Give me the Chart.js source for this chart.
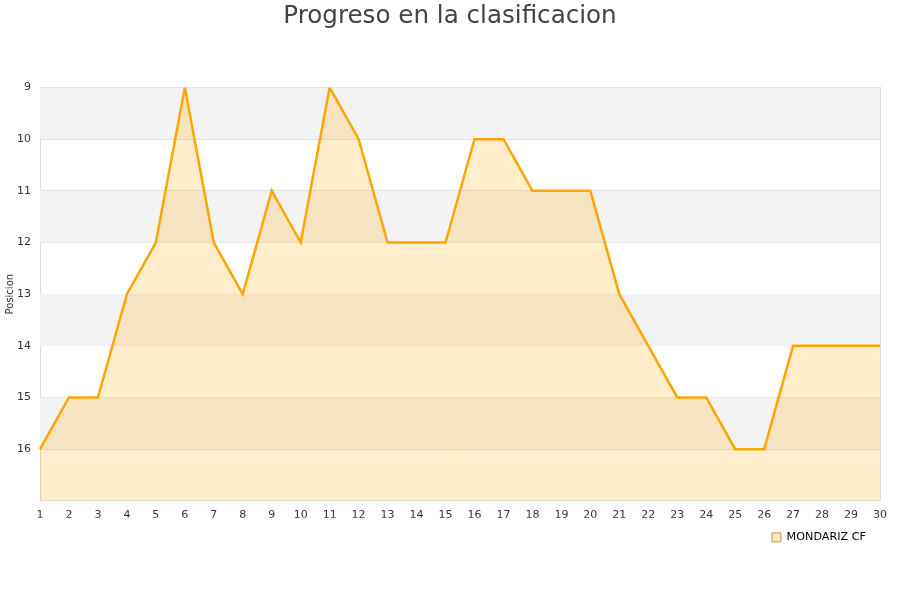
<!DOCTYPE html>
<html>
<head>
<meta charset="utf-8">
<script src="https://cdn.jsdelivr.net/npm/chart.js@4/dist/chart.umd.min.js"></script>
<style>
html,body{margin:0;padding:0;background:#fff;}
#wrap{width:900px;height:600px;position:relative;}
</style>
</head>
<body>
<div id="wrap"><canvas id="c" width="900" height="600"></canvas></div>
<script>
const jornadas = ['1','2','3','4','5','6','7','8','9','10','11','12','13','14','15','16','17','18','19','20','21','22','23','24','25','26','27','28','29','30'];
const posiciones = [16,15,15,13,12,9,12,13,11,12,9,10,12,12,12,10,10,11,11,11,13,14,15,15,16,16,14,14,14,14];
const equipo = 'MONDARIZ CF';
const titulo = 'Progreso en la clasificacion';
const ejeY = 'Posicion';
const yMin = 9, yMax = 17;

const bandsPlugin = {
  id: 'bands',
  beforeDatasetsDraw(chart) {
    const {ctx, chartArea, scales} = chart;
    const y = scales.y;
    ctx.save();
    for (let v = yMin; v < yMax; v++) {
      if ((v - yMin) % 2 === 0) {
        const t = y.getPixelForValue(v), b = y.getPixelForValue(v + 1);
        ctx.fillStyle = '#f3f3f3';
        ctx.fillRect(chartArea.left, t, chartArea.right - chartArea.left, b - t);
      }
    }
    ctx.restore();
  }
};
const bgPlugin = {
  id: 'bg',
  beforeDraw(chart){
    const ctx = chart.ctx; ctx.save(); ctx.fillStyle='#fff'; ctx.fillRect(0,0,chart.width,chart.height); ctx.restore();
  }
};

new Chart(document.getElementById('c'), {
  type: 'line',
  data: {
    labels: jornadas,
    datasets: [{
      label: equipo,
      data: posiciones,
      borderColor: '#FFA500',
      backgroundColor: 'rgba(255,165,0,0.2)',
      borderWidth: 2.5,
      pointRadius: 0,
      tension: 0,
      fill: { value: yMax }
    }]
  },
  options: {
    responsive: false,
    animation: false,
    devicePixelRatio: 1,
    layout: { padding: { left: 0, right: 0, top: 0, bottom: 47 } },
    plugins: {
      title: {
        display: true, text: titulo, color: '#444',
        font: { family: 'DejaVu Sans', size: 24.6, weight: 'normal' },
        padding: { top: 2, bottom: 56 }
      },
      legend: {
        position: 'bottom', align: 'end', fullSize: false,
        labels: {
          color: '#000', font: { family: 'DejaVu Sans', size: 11.2 },
          boxWidth: 9, boxHeight: 9, padding: 14,
          generateLabels(chart){
            return [{text: equipo, fillStyle: 'rgba(255,165,0,0.25)', strokeStyle: '#b8954a', lineWidth: 1, datasetIndex: 0}];
          }
        }
      },
      tooltip: { enabled: false }
    },
    scales: {
      x: {
        offset: false,
        afterFit(scale){ scale.height = 17; },
        grid: { display: false, drawTicks: false },
        border: { display: true, color: '#ddd' },
        ticks: { color: '#333', font: { family: 'DejaVu Sans', size: 11 }, maxRotation: 0, autoSkip: false, padding: 8 }
      },
      y: {
        reverse: true, min: yMin, max: yMax,
        afterFit(scale){ scale.width = 40; },
        grid: { color: '#e0e0e0', drawTicks: false },
        border: { display: true, color: '#ddd' },
        ticks: {
          stepSize: 1, color: '#333', padding: 9,
          font: { family: 'DejaVu Sans', size: 11 },
          callback: v => (v === yMax ? '' : v)
        },
        title: { display: true, text: ejeY, color: '#333', font: { family: 'DejaVu Sans', size: 10 }, padding: 4 }
      },
      y2: {
        position: 'right', display: true, min: yMin, max: yMax, reverse: true,
        afterFit(scale){ scale.width = 20; },
        grid: { display: false, drawTicks: false },
        border: { display: true, color: '#ddd' },
        ticks: { display: false }
      }
    }
  },
  plugins: [bgPlugin, bandsPlugin]
});
</script>
</body>
</html>
